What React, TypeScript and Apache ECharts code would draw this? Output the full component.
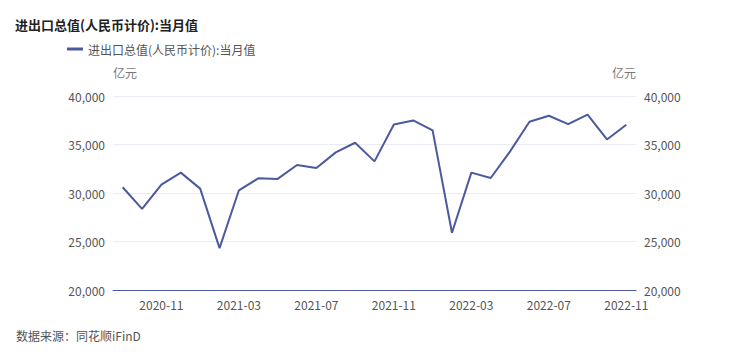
import React, { useEffect, useRef } from "react";
import * as echarts from "echarts";

const categories = [
  "2020-09", "2020-10", "2020-11", "2020-12",
  "2021-01", "2021-02", "2021-03", "2021-04", "2021-05", "2021-06",
  "2021-07", "2021-08", "2021-09", "2021-10", "2021-11", "2021-12",
  "2022-01", "2022-02", "2022-03", "2022-04", "2022-05", "2022-06",
  "2022-07", "2022-08", "2022-09", "2022-10", "2022-11",
];

const values = [
  30590, 28370, 30870, 32100,
  30450, 24320, 30280, 31510, 31450, 32890,
  32580, 34190, 35180, 33260, 37060, 37480,
  36450, 25900, 32100, 31550, 34290, 37340,
  37960, 37100, 38090, 35520, 37030,
];

const seriesName = "进出口总值(人民币计价):当月值";
const titleText = "进出口总值(人民币计价):当月值";
const unitName = "亿元";
const sourceText = "数据来源：同花顺iFinD";

const FONT = "'Noto Sans CJK SC', 'Microsoft YaHei', sans-serif";
const LINE_COLOR = "#4b5a9c";

export default function App() {
  const ref = useRef<HTMLDivElement>(null);
  useEffect(() => {
    if (!ref.current) return;
    const chart = echarts.init(ref.current, undefined, { renderer: "svg" });
    const yAxisCommon = {
      type: "value" as const,
      min: 20000,
      max: 40000,
      interval: 5000,
      name: unitName,
      nameGap: 18,
      axisLine: { show: false },
      axisTick: { show: false },
      splitLine: { lineStyle: { color: "#e9ebf5", width: 1 } },
      axisLabel: {
        color: "#555",
        fontSize: 12,
        fontFamily: FONT,
        formatter: (v: number) => v.toLocaleString("en-US"),
      },
    };
    chart.setOption({
      animation: false,
      textStyle: { fontFamily: FONT },
      title: {
        text: titleText,
        left: 10,
        top: 13,
        textStyle: { fontSize: 13, fontWeight: "bold", color: "#222", fontFamily: FONT },
      },
      legend: {
        left: 62,
        top: 38,
        itemWidth: 16,
        itemHeight: 3,
        icon: "rect",
        textStyle: { fontSize: 12, color: "#555", fontFamily: FONT },
        data: [seriesName],
      },
      grid: { left: 113, right: 114, top: 96, bottom: 71 },
      xAxis: {
        type: "category",
        data: categories,
        boundaryGap: true,
        axisLine: { lineStyle: { color: LINE_COLOR, width: 1 } },
        axisTick: { show: false },
        axisLabel: {
          color: "#555",
          fontSize: 12,
          fontFamily: FONT,
          margin: 8,
          interval: (idx: number) => (idx - 2) % 4 === 0,
        },
      },
      yAxis: [
        {
          ...yAxisCommon,
          position: "left",
          nameTextStyle: { color: "#777", fontSize: 12, fontFamily: FONT, align: "left" },
        },
        {
          ...yAxisCommon,
          position: "right",
          nameTextStyle: { color: "#777", fontSize: 12, fontFamily: FONT, align: "right" },
        },
      ],
      series: [
        {
          name: seriesName,
          type: "line",
          data: values,
          yAxisIndex: 0,
          symbol: "none",
          lineStyle: { color: LINE_COLOR, width: 2 },
          itemStyle: { color: LINE_COLOR },
        },
      ],
      graphic: [
        {
          type: "text",
          left: 16,
          top: 329,
          style: { text: sourceText, fontSize: 12, fill: "#555", fontFamily: FONT },
        },
      ],
    });
    return () => chart.dispose();
  }, []);
  return <div ref={ref} style={{ width: 750, height: 361, position: "absolute", left: 0, top: 0 }} />;
}
